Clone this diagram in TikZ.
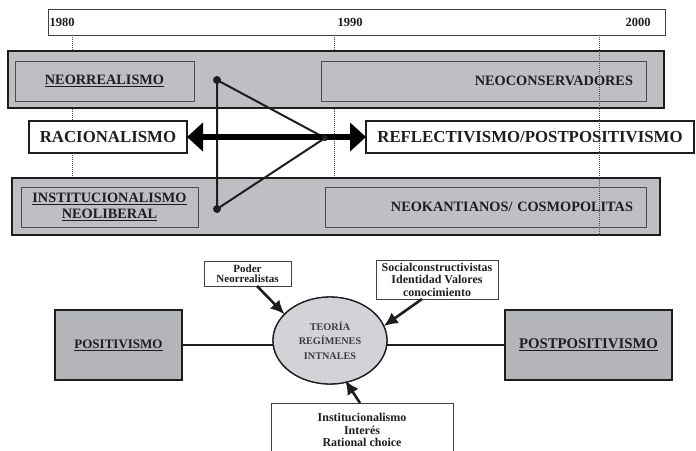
\documentclass[tikz,border=0pt]{standalone}
\usepackage{fontspec}
\setmainfont{Liberation Serif}
\usetikzlibrary{arrows.meta,shapes.geometric}
\definecolor{panelgray}{HTML}{BEBFC3}
\definecolor{ovalgray}{HTML}{D3D3D7}
\definecolor{ink}{HTML}{1E1E1E}
\definecolor{ovalink}{HTML}{3A3A3A}

\tikzset{
  every node/.style={inner sep=0pt, outer sep=0pt, text=ink, font=\bfseries},
  panel/.style={draw=ink, line width=2.5pt, fill=panelgray, anchor=north west},
  innerbox/.style={draw=ink!80, line width=0.9pt, anchor=north west, font=\fontsize{14.3}{17}\selectfont\bfseries},
  bigbox/.style={draw=ink, line width=2pt, fill=white, anchor=north west, font=\fontsize{16.8}{20}\selectfont\bfseries},
  yearlabel/.style={font=\fontsize{12.5}{14}\selectfont\bfseries},
  guide/.style={draw=ink!80, line width=0.7pt, dash pattern=on 0.8pt off 1.2pt},
  triline/.style={draw=ink, line width=2pt},
  vertexdot/.style={fill=ink},
  bigarrow/.style={draw=black, line width=6pt, {Triangle[length=16pt,width=28pt]}-{Triangle[length=16pt,width=28pt]}},
  lowbox/.style={draw=ink, line width=1.3pt, fill=panelgray!95!black, anchor=north west},
  notebox/.style={draw=ink!85, line width=1pt, fill=white, anchor=north west, align=center},
  oval/.style={ellipse, draw=ink, line width=1.3pt, fill=ovalgray, minimum width=114pt, minimum height=87pt, align=center,
    text=ovalink, font=\fontsize{10.2}{14.5}\selectfont\bfseries},
  link/.style={draw=ink, line width=2.8pt},
  pointer/.style={draw=ink, line width=2.6pt, -{Latex[length=14pt,width=13pt]}}
}

\begin{document}
\begin{tikzpicture}[x=1pt,y=-1pt]
\useasboundingbox (0,0) rectangle (696,450);
\clip (0,0) rectangle (696,450);

% --- time line -------------------------------------------------------
\node[draw=ink!85, line width=1pt, minimum width=617pt, minimum height=26pt, anchor=north west] (timeline) at (48,9) {};
\node[yearlabel, anchor=west] (y1980) at (49.5,22) {1980};
\node[yearlabel] (y1990) at (350,22) {1990};
\node[yearlabel] (y2000) at (638,22) {2000};

% year guides behind the panels
\coordinate (g80top) at (72,35);   \coordinate (g80bot) at (72,178);
\coordinate (g90top) at (334,35);  \coordinate (g90bot) at (334,178);
\coordinate (g00top) at (599,35);  \coordinate (g00bot) at (599,236);
\draw[guide] (g80top) -- (g80bot);
\draw[guide] (g90top) -- (g90bot);

% --- upper and lower panels --------------------------------------------
\node[panel, minimum width=656pt, minimum height=57pt] (toppanel) at (8,51) {};
\node[panel, minimum width=648pt, minimum height=57pt] (botpanel) at (12,178) {};

\node[innerbox, minimum width=179pt, minimum height=40pt] (neorreal) at (15,61) {\underline{NEORREALISMO}};
\node[innerbox, minimum width=325pt, minimum height=40pt, text width=299pt, align=right, inner xsep=13pt] (neocons) at (321,61) {NEOCONSERVADORES};
\node[innerbox, minimum width=177pt, minimum height=40pt, align=center] (instneo) at (21,187) {\underline{INSTITUCIONALISMO}\\[-1pt]\underline{NEOLIBERAL}};
\node[innerbox, minimum width=321pt, minimum height=40pt, text width=295pt, align=right, inner xsep=13pt] (neokant) at (325,187) {NEOKANTIANOS/ COSMOPOLITAS};

% --- the two research programmes ---------------------------------------
\node[bigbox, minimum width=158pt, minimum height=32pt] (racional) at (29,121) {RACIONALISMO};
\node[bigbox, minimum width=328pt, minimum height=32pt] (reflect) at (366,121) {REFLECTIVISMO/POSTPOSITIVISMO};

% triangle linking the rationalist schools with the reflectivist pole
\coordinate (apexN) at (217,80);
\coordinate (apexS) at (217,209);
\coordinate (apexE) at (325,138);
\draw[triline] (apexN) -- (apexS) -- (apexE) -- cycle;

\draw[bigarrow] (racional.east) -- (reflect.west);

\fill[vertexdot] (apexN) circle (4pt);
\fill[vertexdot] (apexS) circle (4pt);
\fill[vertexdot] (apexE) circle (3pt);

\draw[guide] (g00top) -- (g00bot);

% --- regime theory scheme ----------------------------------------------
\node[lowbox, minimum width=127pt, minimum height=70pt, font=\fontsize{13}{15}\selectfont\bfseries] (posit) at (55,310) {\underline{POSITIVISMO}};
\node[lowbox, minimum width=167pt, minimum height=70pt, font=\fontsize{14.8}{17}\selectfont\bfseries] (postpos) at (505,310) {\underline{POSTPOSITIVISMO}};
\node[oval] (theory) at (330,340.5) {TEORÍA\\REGÍMENES\\INTNALES};

\draw[link] (posit.east) -- (theory.west |- posit.east);
\draw[link] (postpos.west) -- (theory.east |- postpos.west);
\node[oval] at (theory) {TEORÍA\\REGÍMENES\\INTNALES};

\node[notebox, minimum width=87pt, minimum height=25pt, font=\fontsize{11}{10.5}\selectfont\bfseries] (poder) at (204,261) {Poder\\Neorrealistas};
\node[notebox, minimum width=122pt, minimum height=39pt, font=\fontsize{12}{12.5}\selectfont\bfseries] (social) at (376,260) {Socialconstructivistas\\Identidad Valores\\conocimiento};
\node[notebox, minimum width=182pt, minimum height=54pt, font=\fontsize{12}{12.5}\selectfont\bfseries] (instit) at (271,403) {Institucionalismo\\Interés\\Rational choice};

\draw[pointer] ([xshift=9.5pt]poder.south) -- (theory.150);
\draw[pointer] ([xshift=-15pt]social.south) -- (theory.15);
\draw[pointer] ([xshift=-2pt]instit.north) -- ([yshift=2pt]theory.-70);
\end{tikzpicture}
\end{document}
